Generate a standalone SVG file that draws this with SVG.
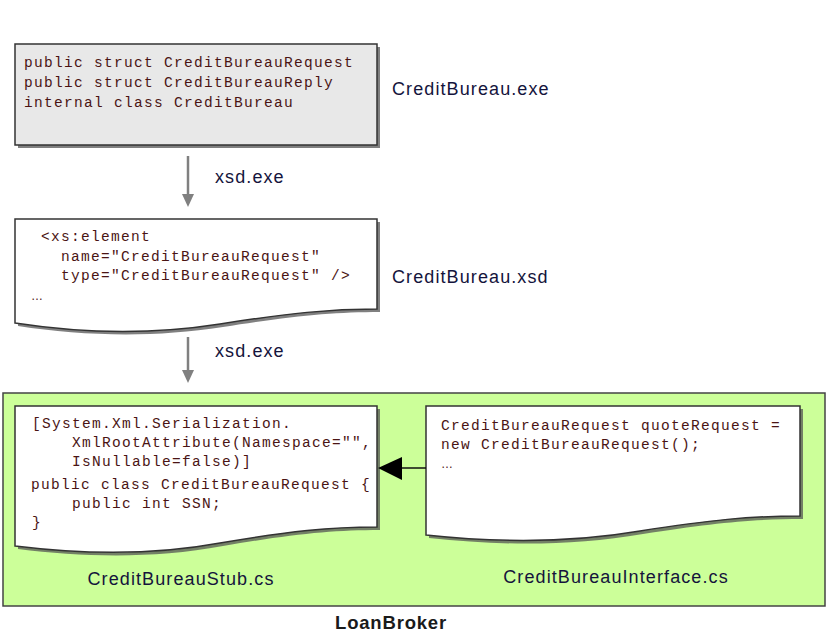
<svg xmlns="http://www.w3.org/2000/svg" width="828" height="634" viewBox="0 0 828 634">
<style>
.code{font-family:"Liberation Mono","DejaVu Sans Mono",monospace;font-size:14.5px;letter-spacing:1.3px;fill:#4a1414}
.dots{font-family:"Liberation Sans",Arial,sans-serif;font-size:12px;fill:#4a1414}
.lbl{font-family:"Liberation Sans",Arial,sans-serif;font-size:18px;letter-spacing:1.1px;fill:#14143c}
.title{font-family:"Liberation Sans",Arial,sans-serif;font-size:18.5px;font-weight:bold;letter-spacing:0.8px;fill:#1a1a1a}
.shadow{fill:#555;opacity:0.75}
.doc{fill:#fff;stroke:#333;stroke-width:1.5}
.conn{stroke:#808080;stroke-width:2.5;fill:none}
.head{fill:#808080}
</style>
<rect width="828" height="634" fill="#fff"/>

<g id="loanbroker">
<rect x="3" y="393" width="822" height="213" fill="#ccff99" stroke="#444" stroke-width="1.5"/>
<text class="title" x="391" y="629" text-anchor="middle">LoanBroker</text>
</g>

<g id="creditbureau-exe">
<rect x="18" y="47" width="362" height="101" class="shadow"/>
<rect x="15" y="44" width="362" height="101" fill="#e8e8e8" stroke="#333" stroke-width="1.5"/>
<text class="code" x="24" y="67">public struct CreditBureauRequest</text>
<text class="code" x="24" y="87">public struct CreditBureauReply</text>
<text class="code" x="24" y="107">internal class CreditBureau</text>
<text class="lbl" x="392" y="95">CreditBureau.exe</text>
</g>

<g id="creditbureau-xsd">
<path class="shadow" transform="translate(3,3)" d="M15,219 H377 V309 C330,309 290,313 220,324 C150,335 80,333 15,323 Z"/>
<path class="doc" d="M15,219 H377 V309 C330,309 290,313 220,324 C150,335 80,333 15,323 Z"/>
<text class="code" x="41" y="241">&lt;xs:element</text>
<text class="code" x="61" y="261">name="CreditBureauRequest"</text>
<text class="code" x="61" y="280">type="CreditBureauRequest" /&gt;</text>
<text class="dots" x="31" y="300">…</text>
<text class="lbl" x="392" y="283">CreditBureau.xsd</text>
</g>

<g id="creditbureau-stub">
<path class="shadow" transform="translate(3,3)" d="M15,406 H377 V527 C330,527 290,531 220,543 C150,556 80,554 15,546 Z"/>
<path class="doc" d="M15,406 H377 V527 C330,527 290,531 220,543 C150,556 80,554 15,546 Z"/>
<text class="code" x="32" y="428">[System.Xml.Serialization.</text>
<text class="code" x="72" y="447">XmlRootAttribute(Namespace="",</text>
<text class="code" x="72" y="466">IsNullable=false)]</text>
<text class="code" x="31" y="489">public class CreditBureauRequest {</text>
<text class="code" x="72" y="508">public int SSN;</text>
<text class="code" x="32" y="527">}</text>
<text class="lbl" x="181" y="585" text-anchor="middle">CreditBureauStub.cs</text>
</g>

<g id="creditbureau-interface">
<path class="shadow" transform="translate(3,3)" d="M426,406 H800 V516 C750,516 710,520 640,531 C570,543 500,543 426,535 Z"/>
<path class="doc" d="M426,406 H800 V516 C750,516 710,520 640,531 C570,543 500,543 426,535 Z"/>
<text class="code" x="441" y="430">CreditBureauRequest quoteRequest =</text>
<text class="code" x="441" y="449">new CreditBureauRequest();</text>
<text class="dots" x="441" y="468">…</text>
<text class="lbl" x="616" y="583" text-anchor="middle">CreditBureauInterface.cs</text>
</g>

<g id="connectors">
<line class="conn" x1="188" y1="156" x2="188" y2="196"/>
<polygon class="head" points="182,194 194,194 188,207"/>
<text class="lbl" x="215" y="183">xsd.exe</text>
<line class="conn" x1="188" y1="337" x2="188" y2="372"/>
<polygon class="head" points="182,370 194,370 188,383"/>
<text class="lbl" x="215" y="357">xsd.exe</text>
<line x1="426" y1="468" x2="400" y2="468" stroke="#111" stroke-width="1.5"/>
<polygon points="378,468 402,457 402,480" fill="#000"/>
</g>
</svg>
